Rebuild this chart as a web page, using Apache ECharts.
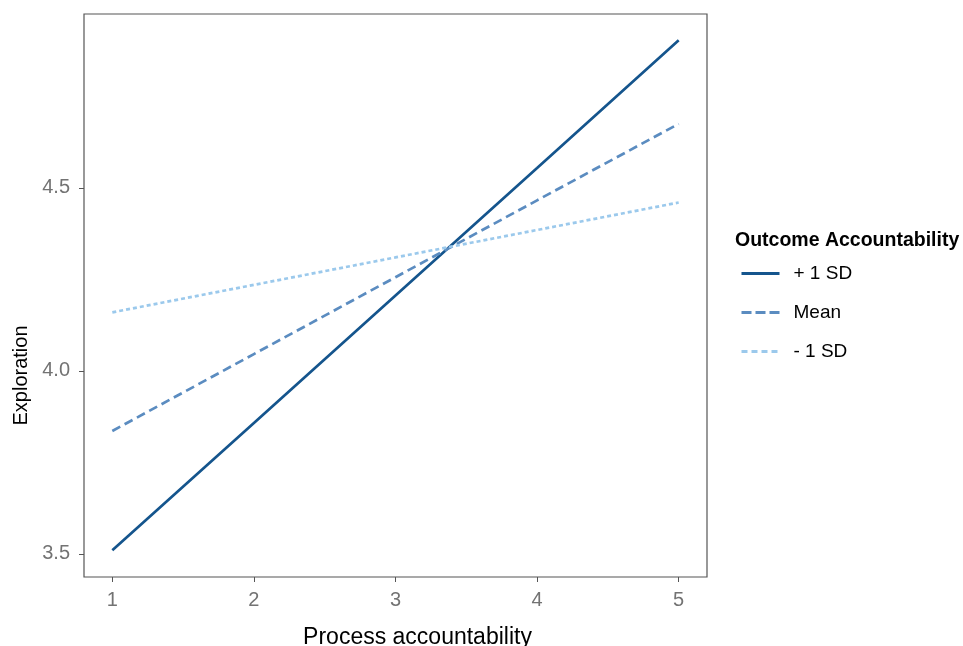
<!DOCTYPE html>
<html>
<head>
<meta charset="utf-8">
<script src="https://cdn.jsdelivr.net/npm/echarts@6/dist/echarts.min.js"></script>
<style>html,body{margin:0;padding:0;background:#fff}#c{width:963px;height:646px}</style>
</head>
<body>
<div id="c"></div>
<script>
var xValues = [1, 2, 3, 4, 5];
var plusSD = [3.51, 3.858, 4.206, 4.554, 4.903];
var meanSD = [3.836, 4.046, 4.256, 4.466, 4.675];
var minusSD = [4.160, 4.235, 4.310, 4.385, 4.460];
var seriesNames = ['+ 1 SD', 'Mean', '- 1 SD'];
var xTicks = [1, 2, 3, 4, 5];
var yTicks = [3.5, 4.0, 4.5];

function pairs(vals) { return xValues.map(function (x, i) { return [x, vals[i]]; }); }
var font = "'Liberation Sans', Arial, sans-serif";
var legendTypes = ['solid', [10, 4], [6, 4]];
var chart = echarts.init(document.getElementById('c'), null, {renderer: 'canvas'});
chart.setOption({
  animation: false,
  backgroundColor: '#fff',
  title: {
    text: 'Outcome Accountability', left: 730, top: 226,
    textStyle: {fontFamily: font, fontSize: 19.5, fontWeight: 'bold', color: '#000'}
  },
  legend: {
    orient: 'vertical', left: 735, top: 259, itemWidth: 38, itemHeight: 14, itemGap: 20,
    data: seriesNames.map(function (n, i) {
      return {name: n, lineStyle: {type: legendTypes[i], width: 3}};
    }),
    itemStyle: {opacity: 0},
    textStyle: {fontFamily: font, fontSize: 19, lineHeight: 19, color: '#000', padding: [0, 0, 0, 9]}
  },
  grid: {left: 84, top: 14, right: 256, bottom: 69, outerBoundsMode: 'none', containLabel: false,
    show: true, borderColor: '#555', borderWidth: 1.2, backgroundColor: '#fff'},
  xAxis: {
    type: 'value', min: 0.8, max: 5.2,
    name: 'Process accountability', nameLocation: 'middle', nameGap: 49,
    nameTextStyle: {fontFamily: font, fontSize: 23, color: '#000', padding: [0, 0, 0, 44]},
    axisLine: {show: false},
    axisTick: {show: true, length: 5, lineStyle: {color: '#555'}, customValues: xTicks},
    axisLabel: {fontFamily: font, fontSize: 20, color: '#737373', margin: 13, customValues: xTicks,
      formatter: function (v) { return String(v); }},
    splitLine: {show: false}
  },
  yAxis: {
    type: 'value', min: 3.437, max: 4.975,
    name: 'Exploration', nameLocation: 'middle', nameGap: 52, nameRotate: 90,
    nameTextStyle: {fontFamily: font, fontSize: 20, color: '#000', padding: [0, 160, 0, 0]},
    axisLine: {show: false},
    axisTick: {show: true, length: 5, lineStyle: {color: '#555'}, customValues: yTicks},
    axisLabel: {fontFamily: font, fontSize: 20, color: '#737373', margin: 14, customValues: yTicks,
      formatter: function (v) { return v.toFixed(1); }},
    splitLine: {show: false}
  },
  series: [
    {name: seriesNames[0], type: 'line', data: pairs(plusSD), symbol: 'none', showSymbol: false,
      itemStyle: {color: '#15558d'}, lineStyle: {color: '#15558d', width: 2.7, type: 'solid'}},
    {name: seriesNames[1], type: 'line', data: pairs(meanSD), symbol: 'none', showSymbol: false,
      itemStyle: {color: '#5b8cc0'}, lineStyle: {color: '#5b8cc0', width: 2.7, type: [9, 5]}},
    {name: seriesNames[2], type: 'line', data: pairs(minusSD), symbol: 'none', showSymbol: false,
      itemStyle: {color: '#9bc9ec'}, lineStyle: {color: '#9bc9ec', width: 2.7, type: [4, 3]}}
  ]
});
</script>
</body>
</html>
